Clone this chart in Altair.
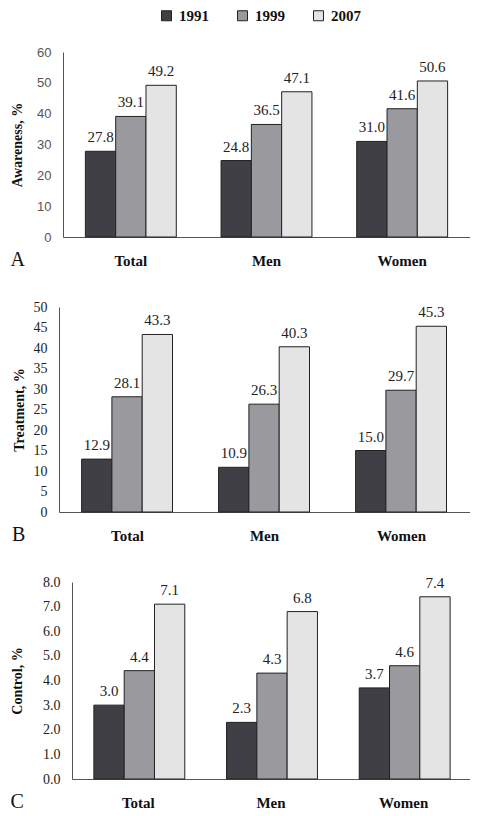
import altair as alt
import pandas as pd

groups = ["Total", "Men", "Women"]
years = ["1991", "1999", "2007"]

awareness_1991 = [27.8, 24.8, 31.0]
awareness_1999 = [39.1, 36.5, 41.6]
awareness_2007 = [49.2, 47.1, 50.6]

treatment_1991 = [12.9, 10.9, 15.0]
treatment_1999 = [28.1, 26.3, 29.7]
treatment_2007 = [43.3, 40.3, 45.3]

control_1991 = [3.0, 2.3, 3.7]
control_1999 = [4.4, 4.3, 4.6]
control_2007 = [7.1, 6.8, 7.4]

awareness_ticks = [0, 10, 20, 30, 40, 50, 60]
treatment_ticks = [0, 5, 10, 15, 20, 25, 30, 35, 40, 45, 50]
control_ticks = [0, 1, 2, 3, 4, 5, 6, 7, 8]

SERIF = "Liberation Serif"
SANS = "Liberation Sans"
colors = ["#403f45", "#9a999e", "#e4e4e4"]
W = 411


def frame(v1991, v1999, v2007):
    rows = []
    for yr, vals in zip(years, [v1991, v1999, v2007]):
        for g, v in zip(groups, vals):
            rows.append({"group": g, "year": yr, "value": v})
    return pd.DataFrame(rows)


legend = alt.Legend(
    orient="none", legendX=100, legendY=-44, offset=0, direction="horizontal",
    title=None, symbolType="square", symbolSize=100,
    symbolStrokeColor="#222", symbolStrokeWidth=1,
    labelFont=SERIF, labelFontWeight="bold", labelFontSize=15,
    labelColor="#111", labelOffset=5, columnPadding=26,
)


def panel(df, ytitle, ticks, top, fmt, letter, height, title_pad, shift,
          tick_font, tick_size, tick_color):
    base = alt.Chart(df)
    x = alt.X("group:N", sort=groups,
              scale=alt.Scale(paddingInner=0.33, paddingOuter=0.165,
                              range=[shift, W]),
              axis=alt.Axis(title=None, labelAngle=0, ticks=False,
                            labelFont=SERIF, labelFontWeight="bold",
                            labelFontSize=15, labelColor="#111",
                            labelPadding=16, domainColor="#555"))
    xo = alt.XOffset("year:N", sort=years,
                     scale=alt.Scale(paddingInner=0, paddingOuter=0))
    y = alt.Y("value:Q", scale=alt.Scale(domain=[0, top], nice=False),
              axis=alt.Axis(values=ticks, format=fmt, title=ytitle, grid=False,
                            ticks=False, offset=-shift, labelFont=tick_font,
                            labelFontSize=tick_size, labelColor=tick_color,
                            labelPadding=12, domainColor="#555",
                            titleFont=SERIF, titleFontSize=14,
                            titleFontWeight="bold", titleColor="#111",
                            titlePadding=title_pad))
    bars = base.mark_bar(stroke="#222", strokeWidth=1).encode(
        x=x, xOffset=xo, y=y,
        color=alt.Color("year:N", sort=years,
                        scale=alt.Scale(domain=years, range=colors),
                        legend=legend),
    )
    labels = base.mark_text(baseline="alphabetic", dy=-9, font=SERIF,
                            fontSize=15, color="#222").encode(
        x=x, xOffset=xo, y=y,
        text=alt.Text("value:Q", format=".1f"),
    )
    return alt.layer(bars, labels).properties(
        width=W, height=height,
        title=alt.TitleParams(letter, orient="bottom", anchor="start",
                              frame="bounds", offset=-18, font=SERIF,
                              fontSize=20, fontWeight="normal", color="#111"),
    )


pa = panel(frame(awareness_1991, awareness_1999, awareness_2007),
           "Awareness, %", awareness_ticks, 60, "d", "A", 185, 12, 4,
           SANS, 13, "#555")
pb = panel(frame(treatment_1991, treatment_1999, treatment_2007),
           "Treatment, %", treatment_ticks, 50, "d", "B", 205, 7, 0,
           SERIF, 14, "#222")
pc = panel(frame(control_1991, control_1999, control_2007),
           "Control, %", control_ticks, 8, ".1f", "C", 197, 18, 13,
           SERIF, 14, "#222")

chart = alt.concat(pa, pb, pc, columns=1, spacing=70).properties(
    bounds="flush",
    padding={"left": 2, "top": 0, "right": 0, "bottom": 0},
).configure_view(stroke=None)

chart.save("out.html", embed_options={"renderer": "svg", "actions": False})
